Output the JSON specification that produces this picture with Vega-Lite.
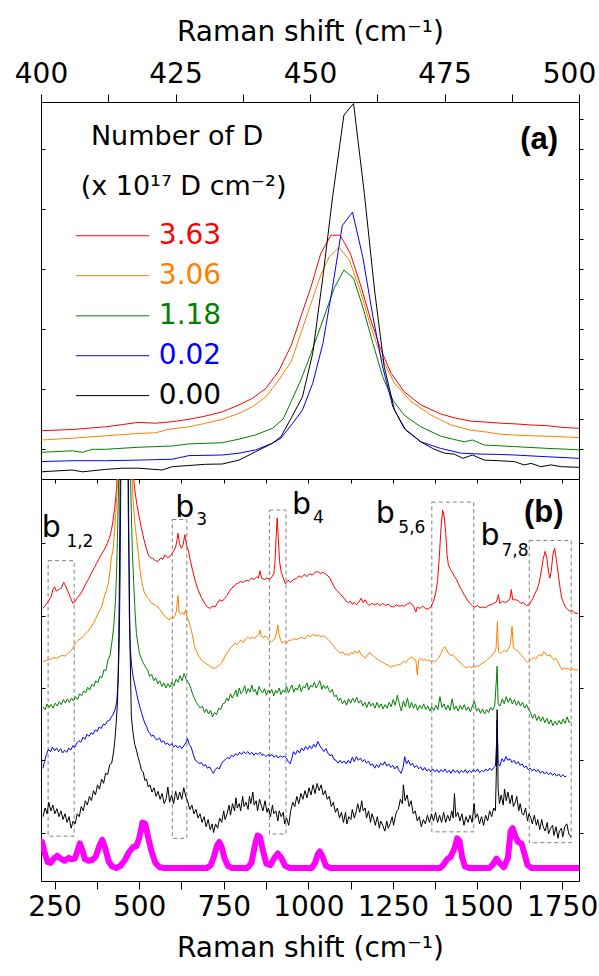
{
"$schema":"https://vega.github.io/schema/vega-lite/v6.json",
"background":"white",
"padding":{"left":13,"top":17,"right":5,"bottom":5},
"spacing":0,
"bounds":"flush",
"config":{
 "font":"DejaVu Sans",
 "view":{"stroke":"black","strokeWidth":1},
 "axis":{"domain":false,"grid":false,"tickColor":"black","tickWidth":1,"labelColor":"black","titleColor":"black","labelFont":"DejaVu Sans","titleFont":"DejaVu Sans","labelFontSize":28,"titleFontSize":28,"titleFontWeight":"normal","labelFlush":false,"labelOverlap":false}
},
"datasets":{
"top":[
{"s":"r","x":400,"y":1.61},{"s":"r","x":405.8,"y":1.65},{"s":"r","x":412,"y":1.74},{"s":"r","x":418.2,"y":1.89},{"s":"r","x":421.3,"y":1.86},{"s":"r","x":424.4,"y":1.91},{"s":"r","x":427.5,"y":1.99},{"s":"r","x":430.6,"y":2.1},{"s":"r","x":433.7,"y":2.24},{"s":"r","x":436.8,"y":2.47},{"s":"r","x":439.3,"y":2.69},{"s":"r","x":441.8,"y":3.02},{"s":"r","x":444.2,"y":3.6},{"s":"r","x":446.5,"y":4.45},{"s":"r","x":448.3,"y":5.41},{"s":"r","x":450.2,"y":6.41},{"s":"r","x":452,"y":7.52},{"s":"r","x":453.9,"y":8.13},{"s":"r","x":455.6,"y":8.13},{"s":"r","x":457.5,"y":7.52},{"s":"r","x":459.5,"y":6.41},{"s":"r","x":461.3,"y":5.3},{"s":"r","x":463.2,"y":4.3},{"s":"r","x":465.1,"y":3.52},{"s":"r","x":467.5,"y":2.91},{"s":"r","x":470.6,"y":2.47},{"s":"r","x":474.3,"y":2.17},{"s":"r","x":477,"y":2.03},{"s":"r","x":479.9,"y":1.93},{"s":"r","x":482.5,"y":1.9},{"s":"r","x":485.5,"y":1.86},{"s":"r","x":488,"y":1.84},{"s":"r","x":491.1,"y":1.8},{"s":"r","x":494,"y":1.78},{"s":"r","x":497,"y":1.72},{"s":"r","x":500,"y":1.69},
{"s":"o","x":400,"y":1.3},{"s":"o","x":405.8,"y":1.36},{"s":"o","x":412,"y":1.44},{"s":"o","x":418.2,"y":1.52},{"s":"o","x":421.3,"y":1.54},{"s":"o","x":423.8,"y":1.66},{"s":"o","x":427.5,"y":1.74},{"s":"o","x":430.6,"y":1.86},{"s":"o","x":433.7,"y":1.99},{"s":"o","x":436.8,"y":2.19},{"s":"o","x":439.3,"y":2.41},{"s":"o","x":441.8,"y":2.74},{"s":"o","x":444.2,"y":3.3},{"s":"o","x":446.5,"y":3.91},{"s":"o","x":448.3,"y":4.86},{"s":"o","x":450.2,"y":5.86},{"s":"o","x":452,"y":6.8},{"s":"o","x":453.6,"y":7.41},{"s":"o","x":455.4,"y":7.72},{"s":"o","x":457.3,"y":7.3},{"s":"o","x":459.5,"y":6.19},{"s":"o","x":461.3,"y":5.08},{"s":"o","x":463.2,"y":4.08},{"s":"o","x":465.7,"y":3.19},{"s":"o","x":468.8,"y":2.58},{"s":"o","x":472.5,"y":2.13},{"s":"o","x":476.2,"y":1.8},{"s":"o","x":479.9,"y":1.63},{"s":"o","x":483,"y":1.56},{"s":"o","x":485.5,"y":1.49},{"s":"o","x":491.1,"y":1.44},{"s":"o","x":495,"y":1.42},{"s":"o","x":500,"y":1.38},
{"s":"g","x":400,"y":0.89},{"s":"g","x":405.8,"y":0.94},{"s":"g","x":407.7,"y":0.89},{"s":"g","x":409.5,"y":0.99},{"s":"g","x":412,"y":0.99},{"s":"g","x":418.2,"y":1.06},{"s":"g","x":424.4,"y":1.1},{"s":"g","x":427.5,"y":1.17},{"s":"g","x":433.7,"y":1.21},{"s":"g","x":436.8,"y":1.33},{"s":"g","x":439.9,"y":1.47},{"s":"g","x":443,"y":1.69},{"s":"g","x":445,"y":2.0},{"s":"g","x":446.5,"y":2.58},{"s":"g","x":448.3,"y":3.3},{"s":"g","x":450.2,"y":4.19},{"s":"g","x":452.4,"y":5.3},{"s":"g","x":454.5,"y":6.36},{"s":"g","x":456.3,"y":6.97},{"s":"g","x":458.1,"y":6.69},{"s":"g","x":459.8,"y":5.74},{"s":"g","x":461.7,"y":4.52},{"s":"g","x":463.5,"y":3.41},{"s":"g","x":465.4,"y":2.63},{"s":"g","x":467.5,"y":2.13},{"s":"g","x":470.6,"y":1.74},{"s":"g","x":474.3,"y":1.43},{"s":"g","x":476.5,"y":1.33},{"s":"g","x":478.7,"y":1.24},{"s":"g","x":480.2,"y":1.3},{"s":"g","x":482.4,"y":1.13},{"s":"g","x":485,"y":1.11},{"s":"g","x":488,"y":1.08},{"s":"g","x":494.2,"y":1.02},{"s":"g","x":497,"y":1.0},{"s":"g","x":500,"y":0.97},
{"s":"b","x":400,"y":0.58},{"s":"b","x":405.8,"y":0.61},{"s":"b","x":412,"y":0.61},{"s":"b","x":418.2,"y":0.63},{"s":"b","x":424.4,"y":0.66},{"s":"b","x":427.5,"y":0.78},{"s":"b","x":433.7,"y":0.8},{"s":"b","x":436.8,"y":0.86},{"s":"b","x":439.9,"y":0.97},{"s":"b","x":443,"y":1.19},{"s":"b","x":444.6,"y":1.36},{"s":"b","x":446.8,"y":1.86},{"s":"b","x":448.6,"y":2.3},{"s":"b","x":450.5,"y":3.19},{"s":"b","x":452.4,"y":4.52},{"s":"b","x":454.2,"y":6.41},{"s":"b","x":456,"y":8.45},{"s":"b","x":457.9,"y":8.9},{"s":"b","x":459.8,"y":7.41},{"s":"b","x":461.7,"y":5.41},{"s":"b","x":463.5,"y":3.74},{"s":"b","x":465.4,"y":2.41},{"s":"b","x":467.5,"y":1.69},{"s":"b","x":470.6,"y":1.24},{"s":"b","x":474.3,"y":1.02},{"s":"b","x":478.1,"y":0.86},{"s":"b","x":481.8,"y":0.83},{"s":"b","x":485,"y":0.82},{"s":"b","x":488,"y":0.8},{"s":"b","x":494.2,"y":0.74},{"s":"b","x":500,"y":0.69},
{"s":"k","x":400,"y":0.24},{"s":"k","x":405.8,"y":0.3},{"s":"k","x":407.7,"y":0.24},{"s":"k","x":412,"y":0.32},{"s":"k","x":415.1,"y":0.36},{"s":"k","x":418.2,"y":0.36},{"s":"k","x":422.5,"y":0.3},{"s":"k","x":424.4,"y":0.41},{"s":"k","x":430.6,"y":0.49},{"s":"k","x":433.7,"y":0.5},{"s":"k","x":436.8,"y":0.63},{"s":"k","x":439.9,"y":0.91},{"s":"k","x":443,"y":1.19},{"s":"k","x":444.6,"y":1.41},{"s":"k","x":446.8,"y":2.13},{"s":"k","x":448.6,"y":2.74},{"s":"k","x":450.5,"y":4.19},{"s":"k","x":452.4,"y":6.74},{"s":"k","x":454.2,"y":9.41},{"s":"k","x":456.3,"y":12.13},{"s":"k","x":458.1,"y":12.52},{"s":"k","x":460.1,"y":9.52},{"s":"k","x":462,"y":6.3},{"s":"k","x":463.8,"y":3.74},{"s":"k","x":465.7,"y":2.3},{"s":"k","x":467.8,"y":1.63},{"s":"k","x":470.6,"y":1.24},{"s":"k","x":473,"y":1.0},{"s":"k","x":475,"y":0.86},{"s":"k","x":476.8,"y":0.83},{"s":"k","x":478.4,"y":0.69},{"s":"k","x":480.2,"y":0.8},{"s":"k","x":482.4,"y":0.63},{"s":"k","x":485,"y":0.61},{"s":"k","x":488,"y":0.58},{"s":"k","x":489.8,"y":0.47},{"s":"k","x":491.1,"y":0.52},{"s":"k","x":492.9,"y":0.41},{"s":"k","x":494.8,"y":0.47},{"s":"k","x":496.7,"y":0.41},{"s":"k","x":500,"y":0.39}
],
"leg":[
{"s":"r","t":"3.63","x1":406.5,"x2":420.1,"lx":421.9,"y":8.11},
{"s":"o","t":"3.06","x1":406.5,"x2":420.1,"lx":421.9,"y":6.78},
{"s":"g","t":"1.18","x1":406.5,"x2":420.1,"lx":421.9,"y":5.44},
{"s":"b","t":"0.02","x1":406.5,"x2":420.1,"lx":421.9,"y":4.11},
{"s":"k","t":"0.00","x1":406.5,"x2":420.1,"lx":421.9,"y":2.78}
],
"toptext":[
{"t":"Number of D","x":425.3,"y":11.41},
{"t":"(x 10¹⁷ D cm⁻²)","x":426.5,"y":9.74}
],
"bot":[
{"s":"r","x":216,"y":3.1},{"s":"r","x":224,"y":3.15},{"s":"r","x":232,"y":3.2},{"s":"r","x":240,"y":3.26},{"s":"r","x":245,"y":3.36},{"s":"r","x":250,"y":3.4},{"s":"r","x":255,"y":3.34},{"s":"r","x":262,"y":3.36},{"s":"r","x":270,"y":3.38},{"s":"r","x":277,"y":3.46},{"s":"r","x":283,"y":3.41},{"s":"r","x":290,"y":3.33},{"s":"r","x":297,"y":3.25},{"s":"r","x":304,"y":3.17},{"s":"r","x":310,"y":3.19},{"s":"r","x":318,"y":3.25},{"s":"r","x":326,"y":3.3},{"s":"r","x":334,"y":3.36},{"s":"r","x":342,"y":3.44},{"s":"r","x":350,"y":3.5},{"s":"r","x":358,"y":3.58},{"s":"r","x":366,"y":3.65},{"s":"r","x":374,"y":3.72},{"s":"r","x":382,"y":3.79},{"s":"r","x":390,"y":3.86},{"s":"r","x":398,"y":3.92},{"s":"r","x":406,"y":4.0},{"s":"r","x":412,"y":4.07},{"s":"r","x":418,"y":4.18},{"s":"r","x":423,"y":4.32},{"s":"r","x":428,"y":4.5},{"s":"r","x":433,"y":4.74},{"s":"r","x":438,"y":5.2},{"s":"r","x":446,"y":7},{"s":"r","x":455,"y":14},{"s":"r","x":462,"y":16},{"s":"r","x":470,"y":9},{"s":"r","x":478,"y":5.6},{"s":"r","x":482,"y":5.0},{"s":"r","x":487,"y":4.74},{"s":"r","x":494,"y":4.52},{"s":"r","x":502,"y":4.32},{"s":"r","x":510,"y":4.14},{"s":"r","x":517,"y":4.0},{"s":"r","x":522,"y":3.92},{"s":"r","x":527,"y":3.84},{"s":"r","x":534,"y":3.8},{"s":"r","x":541,"y":3.79},{"s":"r","x":548,"y":3.76},{"s":"r","x":556,"y":3.75},{"s":"r","x":564,"y":3.8},{"s":"r","x":570,"y":3.78},{"s":"r","x":576,"y":3.84},{"s":"r","x":584,"y":3.8},{"s":"r","x":591,"y":3.82},{"s":"r","x":597,"y":3.86},{"s":"r","x":603,"y":3.9},{"s":"r","x":608,"y":3.95},{"s":"r","x":612,"y":4.05},{"s":"r","x":615,"y":4.14},{"s":"r","x":619,"y":4.0},{"s":"r","x":625,"y":3.93},{"s":"r","x":630,"y":3.98},{"s":"r","x":635,"y":4.12},{"s":"r","x":640,"y":3.98},{"s":"r","x":645,"y":3.91},{"s":"r","x":652,"y":3.75},{"s":"r","x":660,"y":3.59},{"s":"r","x":667,"y":3.46},{"s":"r","x":674,"y":3.36},{"s":"r","x":684,"y":3.25},{"s":"r","x":694,"y":3.17},{"s":"r","x":702,"y":3.12},{"s":"r","x":709,"y":3.1},{"s":"r","x":716,"y":3.13},{"s":"r","x":724,"y":3.12},{"s":"r","x":731,"y":3.17},{"s":"r","x":738,"y":3.22},{"s":"r","x":746,"y":3.2},{"s":"r","x":753,"y":3.24},{"s":"r","x":760,"y":3.28},{"s":"r","x":766,"y":3.33},{"s":"r","x":773,"y":3.38},{"s":"r","x":780,"y":3.4},{"s":"r","x":787,"y":3.44},{"s":"r","x":793,"y":3.45},{"s":"r","x":800,"y":3.47},{"s":"r","x":808,"y":3.46},{"s":"r","x":816,"y":3.49},{"s":"r","x":824,"y":3.48},{"s":"r","x":832,"y":3.52},{"s":"r","x":840,"y":3.5},{"s":"r","x":848,"y":3.54},{"s":"r","x":853,"y":3.52},{"s":"r","x":857,"y":3.62},{"s":"r","x":862,"y":3.52},{"s":"r","x":870,"y":3.5},{"s":"r","x":878,"y":3.52},{"s":"r","x":886,"y":3.5},{"s":"r","x":893,"y":3.54},{"s":"r","x":898,"y":3.58},{"s":"r","x":901,"y":3.7},{"s":"r","x":905,"y":4.1},{"s":"r","x":908,"y":4.35},{"s":"r","x":911,"y":4.1},{"s":"r","x":915,"y":3.75},{"s":"r","x":920,"y":3.6},{"s":"r","x":926,"y":3.52},{"s":"r","x":932,"y":3.44},{"s":"r","x":940,"y":3.49},{"s":"r","x":948,"y":3.46},{"s":"r","x":956,"y":3.5},{"s":"r","x":964,"y":3.51},{"s":"r","x":972,"y":3.55},{"s":"r","x":980,"y":3.53},{"s":"r","x":988,"y":3.57},{"s":"r","x":996,"y":3.54},{"s":"r","x":1004,"y":3.58},{"s":"r","x":1012,"y":3.56},{"s":"r","x":1020,"y":3.6},{"s":"r","x":1028,"y":3.61},{"s":"r","x":1036,"y":3.58},{"s":"r","x":1044,"y":3.6},{"s":"r","x":1052,"y":3.57},{"s":"r","x":1058,"y":3.55},{"s":"r","x":1064,"y":3.52},{"s":"r","x":1070,"y":3.46},{"s":"r","x":1076,"y":3.4},{"s":"r","x":1082,"y":3.36},{"s":"r","x":1088,"y":3.33},{"s":"r","x":1094,"y":3.3},{"s":"r","x":1100,"y":3.27},{"s":"r","x":1106,"y":3.24},{"s":"r","x":1112,"y":3.2},{"s":"r","x":1118,"y":3.18},{"s":"r","x":1124,"y":3.2},{"s":"r","x":1130,"y":3.16},{"s":"r","x":1136,"y":3.18},{"s":"r","x":1142,"y":3.15},{"s":"r","x":1150,"y":3.19},{"s":"r","x":1156,"y":3.24},{"s":"r","x":1162,"y":3.18},{"s":"r","x":1168,"y":3.22},{"s":"r","x":1174,"y":3.17},{"s":"r","x":1180,"y":3.14},{"s":"r","x":1188,"y":3.17},{"s":"r","x":1196,"y":3.15},{"s":"r","x":1204,"y":3.17},{"s":"r","x":1212,"y":3.14},{"s":"r","x":1220,"y":3.17},{"s":"r","x":1228,"y":3.14},{"s":"r","x":1236,"y":3.16},{"s":"r","x":1244,"y":3.13},{"s":"r","x":1252,"y":3.12},{"s":"r","x":1260,"y":3.15},{"s":"r","x":1268,"y":3.13},{"s":"r","x":1276,"y":3.14},{"s":"r","x":1284,"y":3.13},{"s":"r","x":1292,"y":3.16},{"s":"r","x":1300,"y":3.18},{"s":"r","x":1306,"y":3.16},{"s":"r","x":1312,"y":3.12},{"s":"r","x":1318,"y":3.05},{"s":"r","x":1322,"y":3.12},{"s":"r","x":1330,"y":3.1},{"s":"r","x":1338,"y":3.13},{"s":"r","x":1346,"y":3.1},{"s":"r","x":1354,"y":3.09},{"s":"r","x":1362,"y":3.12},{"s":"r","x":1370,"y":3.2},{"s":"r","x":1376,"y":3.3},{"s":"r","x":1382,"y":3.48},{"s":"r","x":1387,"y":3.8},{"s":"r","x":1392,"y":4.2},{"s":"r","x":1397,"y":4.46},{"s":"r","x":1402,"y":4.35},{"s":"r","x":1406,"y":4.15},{"s":"r","x":1410,"y":3.85},{"s":"r","x":1414,"y":3.7},{"s":"r","x":1420,"y":3.64},{"s":"r","x":1426,"y":3.6},{"s":"r","x":1432,"y":3.54},{"s":"r","x":1438,"y":3.5},{"s":"r","x":1444,"y":3.44},{"s":"r","x":1450,"y":3.38},{"s":"r","x":1456,"y":3.33},{"s":"r","x":1462,"y":3.28},{"s":"r","x":1468,"y":3.23},{"s":"r","x":1474,"y":3.19},{"s":"r","x":1480,"y":3.16},{"s":"r","x":1486,"y":3.13},{"s":"r","x":1492,"y":3.12},{"s":"r","x":1500,"y":3.14},{"s":"r","x":1508,"y":3.11},{"s":"r","x":1516,"y":3.12},{"s":"r","x":1524,"y":3.11},{"s":"r","x":1532,"y":3.14},{"s":"r","x":1540,"y":3.15},{"s":"r","x":1548,"y":3.17},{"s":"r","x":1556,"y":3.19},{"s":"r","x":1562,"y":3.29},{"s":"r","x":1566,"y":3.17},{"s":"r","x":1574,"y":3.2},{"s":"r","x":1582,"y":3.18},{"s":"r","x":1590,"y":3.2},{"s":"r","x":1596,"y":3.24},{"s":"r","x":1600,"y":3.36},{"s":"r","x":1604,"y":3.22},{"s":"r","x":1612,"y":3.22},{"s":"r","x":1620,"y":3.21},{"s":"r","x":1628,"y":3.17},{"s":"r","x":1636,"y":3.18},{"s":"r","x":1644,"y":3.14},{"s":"r","x":1652,"y":3.15},{"s":"r","x":1658,"y":3.19},{"s":"r","x":1664,"y":3.24},{"s":"r","x":1670,"y":3.31},{"s":"r","x":1676,"y":3.36},{"s":"r","x":1682,"y":3.45},{"s":"r","x":1688,"y":3.6},{"s":"r","x":1694,"y":3.78},{"s":"r","x":1700,"y":3.89},{"s":"r","x":1705,"y":3.8},{"s":"r","x":1710,"y":3.6},{"s":"r","x":1714,"y":3.52},{"s":"r","x":1718,"y":3.62},{"s":"r","x":1723,"y":3.85},{"s":"r","x":1728,"y":3.93},{"s":"r","x":1733,"y":3.78},{"s":"r","x":1738,"y":3.6},{"s":"r","x":1743,"y":3.42},{"s":"r","x":1748,"y":3.26},{"s":"r","x":1754,"y":3.18},{"s":"r","x":1760,"y":3.12},{"s":"r","x":1766,"y":3.09},{"s":"r","x":1772,"y":3.06},{"s":"r","x":1778,"y":3.08},{"s":"r","x":1786,"y":3.04},{"s":"r","x":1797,"y":3.03},
{"s":"o","x":216,"y":2.36},{"s":"o","x":224,"y":2.38},{"s":"o","x":232,"y":2.39},{"s":"o","x":240,"y":2.4},{"s":"o","x":248,"y":2.42},{"s":"o","x":256,"y":2.41},{"s":"o","x":264,"y":2.43},{"s":"o","x":272,"y":2.45},{"s":"o","x":280,"y":2.44},{"s":"o","x":288,"y":2.47},{"s":"o","x":296,"y":2.5},{"s":"o","x":304,"y":2.55},{"s":"o","x":312,"y":2.62},{"s":"o","x":320,"y":2.66},{"s":"o","x":330,"y":2.69},{"s":"o","x":338,"y":2.73},{"s":"o","x":348,"y":2.78},{"s":"o","x":356,"y":2.83},{"s":"o","x":366,"y":2.9},{"s":"o","x":374,"y":2.98},{"s":"o","x":382,"y":3.06},{"s":"o","x":389,"y":3.12},{"s":"o","x":396,"y":3.24},{"s":"o","x":403,"y":3.35},{"s":"o","x":409,"y":3.45},{"s":"o","x":414,"y":3.62},{"s":"o","x":418,"y":3.8},{"s":"o","x":423,"y":3.91},{"s":"o","x":428,"y":4.2},{"s":"o","x":433,"y":4.55},{"s":"o","x":438,"y":5.1},{"s":"o","x":446,"y":7},{"s":"o","x":455,"y":13},{"s":"o","x":462,"y":15},{"s":"o","x":470,"y":8},{"s":"o","x":477,"y":5.2},{"s":"o","x":482,"y":4.6},{"s":"o","x":487,"y":4.3},{"s":"o","x":492,"y":4.09},{"s":"o","x":497,"y":3.88},{"s":"o","x":502,"y":3.66},{"s":"o","x":507,"y":3.49},{"s":"o","x":514,"y":3.34},{"s":"o","x":522,"y":3.26},{"s":"o","x":530,"y":3.22},{"s":"o","x":537,"y":3.17},{"s":"o","x":544,"y":3.16},{"s":"o","x":550,"y":3.13},{"s":"o","x":556,"y":3.12},{"s":"o","x":562,"y":3.08},{"s":"o","x":568,"y":3.04},{"s":"o","x":576,"y":2.99},{"s":"o","x":582,"y":2.97},{"s":"o","x":588,"y":2.94},{"s":"o","x":594,"y":2.97},{"s":"o","x":600,"y":2.96},{"s":"o","x":606,"y":3.0},{"s":"o","x":610,"y":3.06},{"s":"o","x":613,"y":3.2},{"s":"o","x":615,"y":3.28},{"s":"o","x":618,"y":3.05},{"s":"o","x":623,"y":3.02},{"s":"o","x":628,"y":3.04},{"s":"o","x":633,"y":3.02},{"s":"o","x":637,"y":3.08},{"s":"o","x":642,"y":2.98},{"s":"o","x":647,"y":2.92},{"s":"o","x":652,"y":2.84},{"s":"o","x":658,"y":2.72},{"s":"o","x":664,"y":2.57},{"s":"o","x":670,"y":2.5},{"s":"o","x":676,"y":2.44},{"s":"o","x":684,"y":2.39},{"s":"o","x":690,"y":2.36},{"s":"o","x":697,"y":2.34},{"s":"o","x":704,"y":2.32},{"s":"o","x":710,"y":2.3},{"s":"o","x":716,"y":2.28},{"s":"o","x":723,"y":2.27},{"s":"o","x":730,"y":2.29},{"s":"o","x":736,"y":2.31},{"s":"o","x":743,"y":2.34},{"s":"o","x":750,"y":2.4},{"s":"o","x":756,"y":2.46},{"s":"o","x":763,"y":2.5},{"s":"o","x":770,"y":2.56},{"s":"o","x":776,"y":2.58},{"s":"o","x":783,"y":2.62},{"s":"o","x":790,"y":2.6},{"s":"o","x":796,"y":2.64},{"s":"o","x":802,"y":2.66},{"s":"o","x":808,"y":2.63},{"s":"o","x":815,"y":2.68},{"s":"o","x":822,"y":2.71},{"s":"o","x":828,"y":2.68},{"s":"o","x":835,"y":2.7},{"s":"o","x":842,"y":2.69},{"s":"o","x":849,"y":2.72},{"s":"o","x":854,"y":2.74},{"s":"o","x":857,"y":2.8},{"s":"o","x":861,"y":2.71},{"s":"o","x":867,"y":2.7},{"s":"o","x":874,"y":2.72},{"s":"o","x":880,"y":2.68},{"s":"o","x":886,"y":2.66},{"s":"o","x":891,"y":2.64},{"s":"o","x":897,"y":2.66},{"s":"o","x":903,"y":2.7},{"s":"o","x":907,"y":2.8},{"s":"o","x":910,"y":2.87},{"s":"o","x":913,"y":2.75},{"s":"o","x":918,"y":2.66},{"s":"o","x":924,"y":2.62},{"s":"o","x":930,"y":2.64},{"s":"o","x":936,"y":2.62},{"s":"o","x":942,"y":2.66},{"s":"o","x":950,"y":2.66},{"s":"o","x":958,"y":2.68},{"s":"o","x":966,"y":2.67},{"s":"o","x":974,"y":2.69},{"s":"o","x":982,"y":2.7},{"s":"o","x":990,"y":2.68},{"s":"o","x":998,"y":2.73},{"s":"o","x":1006,"y":2.71},{"s":"o","x":1014,"y":2.74},{"s":"o","x":1022,"y":2.72},{"s":"o","x":1030,"y":2.73},{"s":"o","x":1038,"y":2.71},{"s":"o","x":1046,"y":2.72},{"s":"o","x":1054,"y":2.69},{"s":"o","x":1060,"y":2.66},{"s":"o","x":1066,"y":2.63},{"s":"o","x":1072,"y":2.6},{"s":"o","x":1078,"y":2.56},{"s":"o","x":1084,"y":2.53},{"s":"o","x":1090,"y":2.5},{"s":"o","x":1096,"y":2.48},{"s":"o","x":1102,"y":2.5},{"s":"o","x":1108,"y":2.46},{"s":"o","x":1114,"y":2.47},{"s":"o","x":1120,"y":2.45},{"s":"o","x":1126,"y":2.49},{"s":"o","x":1132,"y":2.47},{"s":"o","x":1138,"y":2.51},{"s":"o","x":1144,"y":2.48},{"s":"o","x":1150,"y":2.52},{"s":"o","x":1156,"y":2.46},{"s":"o","x":1162,"y":2.44},{"s":"o","x":1168,"y":2.41},{"s":"o","x":1174,"y":2.45},{"s":"o","x":1180,"y":2.49},{"s":"o","x":1186,"y":2.47},{"s":"o","x":1192,"y":2.44},{"s":"o","x":1198,"y":2.42},{"s":"o","x":1204,"y":2.4},{"s":"o","x":1210,"y":2.38},{"s":"o","x":1216,"y":2.36},{"s":"o","x":1222,"y":2.35},{"s":"o","x":1228,"y":2.33},{"s":"o","x":1234,"y":2.32},{"s":"o","x":1240,"y":2.3},{"s":"o","x":1246,"y":2.29},{"s":"o","x":1252,"y":2.31},{"s":"o","x":1258,"y":2.3},{"s":"o","x":1264,"y":2.33},{"s":"o","x":1270,"y":2.32},{"s":"o","x":1276,"y":2.34},{"s":"o","x":1282,"y":2.37},{"s":"o","x":1288,"y":2.35},{"s":"o","x":1294,"y":2.39},{"s":"o","x":1300,"y":2.41},{"s":"o","x":1306,"y":2.43},{"s":"o","x":1312,"y":2.4},{"s":"o","x":1318,"y":2.38},{"s":"o","x":1322,"y":2.18},{"s":"o","x":1326,"y":2.38},{"s":"o","x":1332,"y":2.41},{"s":"o","x":1338,"y":2.38},{"s":"o","x":1344,"y":2.4},{"s":"o","x":1350,"y":2.37},{"s":"o","x":1356,"y":2.39},{"s":"o","x":1362,"y":2.36},{"s":"o","x":1368,"y":2.38},{"s":"o","x":1374,"y":2.36},{"s":"o","x":1380,"y":2.39},{"s":"o","x":1386,"y":2.42},{"s":"o","x":1392,"y":2.48},{"s":"o","x":1398,"y":2.54},{"s":"o","x":1403,"y":2.57},{"s":"o","x":1408,"y":2.53},{"s":"o","x":1414,"y":2.48},{"s":"o","x":1420,"y":2.45},{"s":"o","x":1426,"y":2.46},{"s":"o","x":1432,"y":2.43},{"s":"o","x":1438,"y":2.4},{"s":"o","x":1444,"y":2.37},{"s":"o","x":1450,"y":2.35},{"s":"o","x":1456,"y":2.32},{"s":"o","x":1462,"y":2.29},{"s":"o","x":1468,"y":2.28},{"s":"o","x":1474,"y":2.3},{"s":"o","x":1480,"y":2.28},{"s":"o","x":1486,"y":2.29},{"s":"o","x":1492,"y":2.29},{"s":"o","x":1498,"y":2.31},{"s":"o","x":1504,"y":2.3},{"s":"o","x":1510,"y":2.33},{"s":"o","x":1516,"y":2.35},{"s":"o","x":1522,"y":2.36},{"s":"o","x":1528,"y":2.39},{"s":"o","x":1534,"y":2.41},{"s":"o","x":1540,"y":2.44},{"s":"o","x":1546,"y":2.47},{"s":"o","x":1551,"y":2.5},{"s":"o","x":1555,"y":2.55},{"s":"o","x":1559,"y":2.92},{"s":"o","x":1562,"y":2.5},{"s":"o","x":1568,"y":2.48},{"s":"o","x":1574,"y":2.5},{"s":"o","x":1580,"y":2.52},{"s":"o","x":1586,"y":2.5},{"s":"o","x":1592,"y":2.55},{"s":"o","x":1597,"y":2.6},{"s":"o","x":1602,"y":2.85},{"s":"o","x":1606,"y":2.55},{"s":"o","x":1612,"y":2.53},{"s":"o","x":1618,"y":2.52},{"s":"o","x":1624,"y":2.48},{"s":"o","x":1630,"y":2.45},{"s":"o","x":1636,"y":2.42},{"s":"o","x":1642,"y":2.38},{"s":"o","x":1648,"y":2.35},{"s":"o","x":1654,"y":2.37},{"s":"o","x":1660,"y":2.4},{"s":"o","x":1666,"y":2.42},{"s":"o","x":1672,"y":2.4},{"s":"o","x":1678,"y":2.44},{"s":"o","x":1684,"y":2.46},{"s":"o","x":1690,"y":2.44},{"s":"o","x":1696,"y":2.5},{"s":"o","x":1702,"y":2.47},{"s":"o","x":1708,"y":2.44},{"s":"o","x":1714,"y":2.46},{"s":"o","x":1720,"y":2.42},{"s":"o","x":1726,"y":2.39},{"s":"o","x":1732,"y":2.41},{"s":"o","x":1738,"y":2.36},{"s":"o","x":1744,"y":2.3},{"s":"o","x":1750,"y":2.25},{"s":"o","x":1756,"y":2.28},{"s":"o","x":1762,"y":2.26},{"s":"o","x":1768,"y":2.27},{"s":"o","x":1774,"y":2.24},{"s":"o","x":1780,"y":2.27},{"s":"o","x":1786,"y":2.25},{"s":"o","x":1797,"y":2.25},
{"s":"g","x":216,"y":1.74},{"s":"g","x":222,"y":1.7},{"s":"g","x":228,"y":1.78},{"s":"g","x":234,"y":1.73},{"s":"g","x":240,"y":1.77},{"s":"g","x":246,"y":1.72},{"s":"g","x":252,"y":1.79},{"s":"g","x":258,"y":1.75},{"s":"g","x":264,"y":1.81},{"s":"g","x":270,"y":1.77},{"s":"g","x":276,"y":1.84},{"s":"g","x":282,"y":1.79},{"s":"g","x":288,"y":1.85},{"s":"g","x":294,"y":1.8},{"s":"g","x":300,"y":1.86},{"s":"g","x":306,"y":1.82},{"s":"g","x":312,"y":1.88},{"s":"g","x":318,"y":1.84},{"s":"g","x":324,"y":1.92},{"s":"g","x":330,"y":1.89},{"s":"g","x":336,"y":1.96},{"s":"g","x":342,"y":1.93},{"s":"g","x":348,"y":2.01},{"s":"g","x":354,"y":1.97},{"s":"g","x":360,"y":2.05},{"s":"g","x":366,"y":2.02},{"s":"g","x":372,"y":2.1},{"s":"g","x":378,"y":2.07},{"s":"g","x":384,"y":2.16},{"s":"g","x":390,"y":2.14},{"s":"g","x":396,"y":2.25},{"s":"g","x":402,"y":2.24},{"s":"g","x":408,"y":2.39},{"s":"g","x":414,"y":2.45},{"s":"g","x":420,"y":2.65},{"s":"g","x":425,"y":2.85},{"s":"g","x":430,"y":3.2},{"s":"g","x":434,"y":3.7},{"s":"g","x":438,"y":4.5},{"s":"g","x":442,"y":5.5},{"s":"g","x":450,"y":10},{"s":"g","x":458,"y":18},{"s":"g","x":465,"y":10},{"s":"g","x":472,"y":5.5},{"s":"g","x":476,"y":4.6},{"s":"g","x":480,"y":3.9},{"s":"g","x":484,"y":3.45},{"s":"g","x":488,"y":3.05},{"s":"g","x":492,"y":2.75},{"s":"g","x":496,"y":2.62},{"s":"g","x":501,"y":2.48},{"s":"g","x":507,"y":2.4},{"s":"g","x":513,"y":2.34},{"s":"g","x":519,"y":2.29},{"s":"g","x":525,"y":2.25},{"s":"g","x":531,"y":2.16},{"s":"g","x":537,"y":2.19},{"s":"g","x":543,"y":2.1},{"s":"g","x":549,"y":2.14},{"s":"g","x":555,"y":2.06},{"s":"g","x":561,"y":2.1},{"s":"g","x":567,"y":2.02},{"s":"g","x":573,"y":2.07},{"s":"g","x":579,"y":2.0},{"s":"g","x":585,"y":2.06},{"s":"g","x":591,"y":2.01},{"s":"g","x":597,"y":2.08},{"s":"g","x":603,"y":2.03},{"s":"g","x":609,"y":2.12},{"s":"g","x":615,"y":2.08},{"s":"g","x":621,"y":2.17},{"s":"g","x":627,"y":2.1},{"s":"g","x":633,"y":2.2},{"s":"g","x":639,"y":2.12},{"s":"g","x":645,"y":2.08},{"s":"g","x":651,"y":2.02},{"s":"g","x":657,"y":1.93},{"s":"g","x":663,"y":1.86},{"s":"g","x":669,"y":1.8},{"s":"g","x":675,"y":1.76},{"s":"g","x":681,"y":1.72},{"s":"g","x":687,"y":1.75},{"s":"g","x":693,"y":1.66},{"s":"g","x":699,"y":1.71},{"s":"g","x":705,"y":1.64},{"s":"g","x":711,"y":1.69},{"s":"g","x":717,"y":1.6},{"s":"g","x":723,"y":1.66},{"s":"g","x":729,"y":1.63},{"s":"g","x":735,"y":1.72},{"s":"g","x":741,"y":1.7},{"s":"g","x":747,"y":1.78},{"s":"g","x":753,"y":1.79},{"s":"g","x":759,"y":1.86},{"s":"g","x":764,"y":1.82},{"s":"g","x":770,"y":1.92},{"s":"g","x":775,"y":1.86},{"s":"g","x":780,"y":1.9},{"s":"g","x":786,"y":1.97},{"s":"g","x":790,"y":1.88},{"s":"g","x":796,"y":2.0},{"s":"g","x":801,"y":1.92},{"s":"g","x":806,"y":1.95},{"s":"g","x":812,"y":2.03},{"s":"g","x":817,"y":1.92},{"s":"g","x":822,"y":1.99},{"s":"g","x":828,"y":1.94},{"s":"g","x":833,"y":2.04},{"s":"g","x":838,"y":1.95},{"s":"g","x":843,"y":1.98},{"s":"g","x":849,"y":1.9},{"s":"g","x":854,"y":2.02},{"s":"g","x":860,"y":1.96},{"s":"g","x":865,"y":1.93},{"s":"g","x":871,"y":1.99},{"s":"g","x":876,"y":1.9},{"s":"g","x":882,"y":1.97},{"s":"g","x":887,"y":1.93},{"s":"g","x":892,"y":1.98},{"s":"g","x":898,"y":1.89},{"s":"g","x":903,"y":1.97},{"s":"g","x":908,"y":1.93},{"s":"g","x":914,"y":2.0},{"s":"g","x":919,"y":1.91},{"s":"g","x":925,"y":1.97},{"s":"g","x":930,"y":1.94},{"s":"g","x":936,"y":2.02},{"s":"g","x":941,"y":1.93},{"s":"g","x":946,"y":1.99},{"s":"g","x":952,"y":2.04},{"s":"g","x":957,"y":1.94},{"s":"g","x":963,"y":2.0},{"s":"g","x":968,"y":1.97},{"s":"g","x":974,"y":2.05},{"s":"g","x":979,"y":1.95},{"s":"g","x":985,"y":2.02},{"s":"g","x":990,"y":2.0},{"s":"g","x":996,"y":2.07},{"s":"g","x":1001,"y":1.97},{"s":"g","x":1007,"y":2.04},{"s":"g","x":1012,"y":2.01},{"s":"g","x":1018,"y":2.08},{"s":"g","x":1023,"y":2.0},{"s":"g","x":1029,"y":2.05},{"s":"g","x":1034,"y":2.1},{"s":"g","x":1040,"y":1.98},{"s":"g","x":1045,"y":2.04},{"s":"g","x":1051,"y":1.99},{"s":"g","x":1056,"y":2.03},{"s":"g","x":1061,"y":1.97},{"s":"g","x":1065,"y":1.94},{"s":"g","x":1071,"y":1.98},{"s":"g","x":1077,"y":1.88},{"s":"g","x":1083,"y":1.9},{"s":"g","x":1089,"y":1.82},{"s":"g","x":1095,"y":1.86},{"s":"g","x":1101,"y":1.78},{"s":"g","x":1107,"y":1.83},{"s":"g","x":1113,"y":1.76},{"s":"g","x":1119,"y":1.85},{"s":"g","x":1125,"y":1.79},{"s":"g","x":1131,"y":1.86},{"s":"g","x":1137,"y":1.8},{"s":"g","x":1143,"y":1.87},{"s":"g","x":1149,"y":1.79},{"s":"g","x":1155,"y":1.83},{"s":"g","x":1161,"y":1.75},{"s":"g","x":1167,"y":1.8},{"s":"g","x":1173,"y":1.73},{"s":"g","x":1179,"y":1.81},{"s":"g","x":1185,"y":1.75},{"s":"g","x":1191,"y":1.79},{"s":"g","x":1197,"y":1.72},{"s":"g","x":1203,"y":1.8},{"s":"g","x":1209,"y":1.73},{"s":"g","x":1215,"y":1.78},{"s":"g","x":1221,"y":1.71},{"s":"g","x":1227,"y":1.77},{"s":"g","x":1233,"y":1.72},{"s":"g","x":1239,"y":1.8},{"s":"g","x":1245,"y":1.74},{"s":"g","x":1251,"y":1.84},{"s":"g","x":1257,"y":1.76},{"s":"g","x":1263,"y":1.9},{"s":"g","x":1269,"y":1.78},{"s":"g","x":1275,"y":1.68},{"s":"g","x":1281,"y":1.82},{"s":"g","x":1287,"y":1.74},{"s":"g","x":1293,"y":1.86},{"s":"g","x":1299,"y":1.72},{"s":"g","x":1305,"y":1.8},{"s":"g","x":1311,"y":1.72},{"s":"g","x":1317,"y":1.78},{"s":"g","x":1323,"y":1.69},{"s":"g","x":1329,"y":1.76},{"s":"g","x":1335,"y":1.71},{"s":"g","x":1341,"y":1.78},{"s":"g","x":1347,"y":1.7},{"s":"g","x":1353,"y":1.75},{"s":"g","x":1359,"y":1.68},{"s":"g","x":1365,"y":1.74},{"s":"g","x":1371,"y":1.69},{"s":"g","x":1377,"y":1.76},{"s":"g","x":1383,"y":1.7},{"s":"g","x":1389,"y":1.88},{"s":"g","x":1395,"y":1.73},{"s":"g","x":1401,"y":1.78},{"s":"g","x":1407,"y":1.7},{"s":"g","x":1413,"y":1.76},{"s":"g","x":1419,"y":1.69},{"s":"g","x":1425,"y":1.85},{"s":"g","x":1431,"y":1.7},{"s":"g","x":1437,"y":1.75},{"s":"g","x":1443,"y":1.68},{"s":"g","x":1449,"y":1.76},{"s":"g","x":1455,"y":1.7},{"s":"g","x":1461,"y":1.77},{"s":"g","x":1467,"y":1.69},{"s":"g","x":1473,"y":1.74},{"s":"g","x":1479,"y":1.67},{"s":"g","x":1485,"y":1.75},{"s":"g","x":1491,"y":1.82},{"s":"g","x":1497,"y":1.68},{"s":"g","x":1503,"y":1.72},{"s":"g","x":1509,"y":1.65},{"s":"g","x":1515,"y":1.71},{"s":"g","x":1521,"y":1.64},{"s":"g","x":1527,"y":1.7},{"s":"g","x":1533,"y":1.66},{"s":"g","x":1539,"y":1.73},{"s":"g","x":1545,"y":1.69},{"s":"g","x":1551,"y":1.76},{"s":"g","x":1555,"y":2.05},{"s":"g","x":1558,"y":2.3},{"s":"g","x":1561,"y":1.78},{"s":"g","x":1567,"y":1.75},{"s":"g","x":1573,"y":1.85},{"s":"g","x":1579,"y":1.78},{"s":"g","x":1585,"y":1.88},{"s":"g","x":1591,"y":1.8},{"s":"g","x":1597,"y":1.86},{"s":"g","x":1603,"y":1.78},{"s":"g","x":1609,"y":1.84},{"s":"g","x":1615,"y":1.76},{"s":"g","x":1621,"y":1.82},{"s":"g","x":1627,"y":1.75},{"s":"g","x":1633,"y":1.8},{"s":"g","x":1639,"y":1.72},{"s":"g","x":1645,"y":1.77},{"s":"g","x":1651,"y":1.7},{"s":"g","x":1657,"y":1.66},{"s":"g","x":1663,"y":1.58},{"s":"g","x":1669,"y":1.64},{"s":"g","x":1675,"y":1.55},{"s":"g","x":1681,"y":1.61},{"s":"g","x":1687,"y":1.54},{"s":"g","x":1693,"y":1.6},{"s":"g","x":1699,"y":1.52},{"s":"g","x":1705,"y":1.58},{"s":"g","x":1711,"y":1.5},{"s":"g","x":1717,"y":1.56},{"s":"g","x":1723,"y":1.48},{"s":"g","x":1729,"y":1.54},{"s":"g","x":1735,"y":1.49},{"s":"g","x":1741,"y":1.55},{"s":"g","x":1747,"y":1.5},{"s":"g","x":1753,"y":1.57},{"s":"g","x":1759,"y":1.51},{"s":"g","x":1765,"y":1.6},{"s":"g","x":1771,"y":1.52},{"s":"g","x":1774,"y":1.54},
{"s":"b","x":216,"y":0.89},{"s":"b","x":220,"y":0.98},{"s":"b","x":226,"y":1.08},{"s":"b","x":232,"y":1.15},{"s":"b","x":238,"y":1.12},{"s":"b","x":244,"y":1.18},{"s":"b","x":250,"y":1.13},{"s":"b","x":256,"y":1.17},{"s":"b","x":262,"y":1.12},{"s":"b","x":268,"y":1.16},{"s":"b","x":274,"y":1.1},{"s":"b","x":280,"y":1.14},{"s":"b","x":286,"y":1.11},{"s":"b","x":292,"y":1.17},{"s":"b","x":298,"y":1.14},{"s":"b","x":304,"y":1.2},{"s":"b","x":310,"y":1.18},{"s":"b","x":316,"y":1.24},{"s":"b","x":322,"y":1.27},{"s":"b","x":328,"y":1.25},{"s":"b","x":334,"y":1.32},{"s":"b","x":340,"y":1.29},{"s":"b","x":346,"y":1.36},{"s":"b","x":352,"y":1.33},{"s":"b","x":358,"y":1.38},{"s":"b","x":364,"y":1.36},{"s":"b","x":370,"y":1.42},{"s":"b","x":376,"y":1.4},{"s":"b","x":382,"y":1.46},{"s":"b","x":388,"y":1.44},{"s":"b","x":394,"y":1.5},{"s":"b","x":400,"y":1.49},{"s":"b","x":406,"y":1.54},{"s":"b","x":412,"y":1.55},{"s":"b","x":418,"y":1.6},{"s":"b","x":424,"y":1.64},{"s":"b","x":430,"y":1.72},{"s":"b","x":434,"y":1.82},{"s":"b","x":438,"y":2.1},{"s":"b","x":441,"y":2.6},{"s":"b","x":444,"y":3.6},{"s":"b","x":446,"y":5.0},{"s":"b","x":452,"y":12},{"s":"b","x":458,"y":20},{"s":"b","x":464,"y":12},{"s":"b","x":468,"y":5.2},{"s":"b","x":471,"y":3.0},{"s":"b","x":474,"y":2.55},{"s":"b","x":478,"y":2.3},{"s":"b","x":482,"y":2.16},{"s":"b","x":487,"y":2.05},{"s":"b","x":492,"y":1.94},{"s":"b","x":497,"y":1.83},{"s":"b","x":502,"y":1.74},{"s":"b","x":507,"y":1.66},{"s":"b","x":512,"y":1.58},{"s":"b","x":517,"y":1.51},{"s":"b","x":522,"y":1.47},{"s":"b","x":527,"y":1.4},{"s":"b","x":532,"y":1.37},{"s":"b","x":537,"y":1.33},{"s":"b","x":542,"y":1.35},{"s":"b","x":548,"y":1.3},{"s":"b","x":554,"y":1.28},{"s":"b","x":560,"y":1.31},{"s":"b","x":566,"y":1.25},{"s":"b","x":572,"y":1.27},{"s":"b","x":578,"y":1.22},{"s":"b","x":584,"y":1.24},{"s":"b","x":590,"y":1.2},{"s":"b","x":596,"y":1.23},{"s":"b","x":602,"y":1.18},{"s":"b","x":608,"y":1.21},{"s":"b","x":614,"y":1.17},{"s":"b","x":620,"y":1.2},{"s":"b","x":626,"y":1.16},{"s":"b","x":632,"y":1.2},{"s":"b","x":638,"y":1.24},{"s":"b","x":643,"y":1.3},{"s":"b","x":648,"y":1.22},{"s":"b","x":654,"y":1.18},{"s":"b","x":660,"y":1.08},{"s":"b","x":666,"y":1.0},{"s":"b","x":672,"y":0.98},{"s":"b","x":678,"y":0.95},{"s":"b","x":684,"y":0.97},{"s":"b","x":690,"y":0.92},{"s":"b","x":696,"y":0.94},{"s":"b","x":702,"y":0.89},{"s":"b","x":708,"y":0.91},{"s":"b","x":714,"y":0.86},{"s":"b","x":719,"y":0.82},{"s":"b","x":725,"y":0.87},{"s":"b","x":731,"y":0.9},{"s":"b","x":737,"y":0.88},{"s":"b","x":743,"y":0.95},{"s":"b","x":749,"y":0.99},{"s":"b","x":755,"y":1.01},{"s":"b","x":761,"y":1.04},{"s":"b","x":767,"y":1.02},{"s":"b","x":773,"y":1.07},{"s":"b","x":779,"y":1.05},{"s":"b","x":785,"y":1.09},{"s":"b","x":791,"y":1.07},{"s":"b","x":797,"y":1.11},{"s":"b","x":803,"y":1.08},{"s":"b","x":809,"y":1.12},{"s":"b","x":815,"y":1.09},{"s":"b","x":821,"y":1.12},{"s":"b","x":827,"y":1.08},{"s":"b","x":833,"y":1.11},{"s":"b","x":839,"y":1.07},{"s":"b","x":845,"y":1.1},{"s":"b","x":851,"y":1.08},{"s":"b","x":857,"y":1.11},{"s":"b","x":863,"y":1.07},{"s":"b","x":869,"y":1.08},{"s":"b","x":875,"y":1.05},{"s":"b","x":881,"y":1.08},{"s":"b","x":887,"y":1.06},{"s":"b","x":893,"y":1.08},{"s":"b","x":899,"y":1.04},{"s":"b","x":905,"y":1.07},{"s":"b","x":911,"y":1.03},{"s":"b","x":917,"y":1.06},{"s":"b","x":923,"y":1.04},{"s":"b","x":929,"y":1.06},{"s":"b","x":935,"y":1.03},{"s":"b","x":941,"y":0.98},{"s":"b","x":946,"y":0.95},{"s":"b","x":951,"y":1.02},{"s":"b","x":956,"y":1.12},{"s":"b","x":962,"y":1.08},{"s":"b","x":968,"y":1.14},{"s":"b","x":974,"y":1.1},{"s":"b","x":980,"y":1.17},{"s":"b","x":986,"y":1.13},{"s":"b","x":992,"y":1.19},{"s":"b","x":998,"y":1.15},{"s":"b","x":1004,"y":1.2},{"s":"b","x":1010,"y":1.16},{"s":"b","x":1016,"y":1.22},{"s":"b","x":1022,"y":1.18},{"s":"b","x":1028,"y":1.26},{"s":"b","x":1034,"y":1.2},{"s":"b","x":1040,"y":1.16},{"s":"b","x":1046,"y":1.12},{"s":"b","x":1052,"y":1.16},{"s":"b","x":1058,"y":1.1},{"s":"b","x":1064,"y":1.06},{"s":"b","x":1070,"y":1.08},{"s":"b","x":1076,"y":1.01},{"s":"b","x":1082,"y":1.0},{"s":"b","x":1088,"y":0.96},{"s":"b","x":1094,"y":1.0},{"s":"b","x":1100,"y":0.96},{"s":"b","x":1106,"y":0.99},{"s":"b","x":1112,"y":0.95},{"s":"b","x":1118,"y":1.0},{"s":"b","x":1124,"y":0.96},{"s":"b","x":1130,"y":1.04},{"s":"b","x":1136,"y":0.98},{"s":"b","x":1142,"y":1.05},{"s":"b","x":1148,"y":1.0},{"s":"b","x":1154,"y":1.03},{"s":"b","x":1160,"y":0.98},{"s":"b","x":1166,"y":1.01},{"s":"b","x":1172,"y":0.96},{"s":"b","x":1178,"y":0.99},{"s":"b","x":1184,"y":0.93},{"s":"b","x":1190,"y":0.95},{"s":"b","x":1196,"y":0.89},{"s":"b","x":1202,"y":0.94},{"s":"b","x":1208,"y":0.9},{"s":"b","x":1214,"y":0.96},{"s":"b","x":1220,"y":0.93},{"s":"b","x":1226,"y":0.98},{"s":"b","x":1232,"y":0.92},{"s":"b","x":1238,"y":0.95},{"s":"b","x":1244,"y":0.9},{"s":"b","x":1250,"y":0.93},{"s":"b","x":1256,"y":0.88},{"s":"b","x":1262,"y":0.92},{"s":"b","x":1268,"y":0.86},{"s":"b","x":1274,"y":0.82},{"s":"b","x":1280,"y":0.9},{"s":"b","x":1285,"y":1.05},{"s":"b","x":1290,"y":0.95},{"s":"b","x":1296,"y":1.0},{"s":"b","x":1302,"y":0.93},{"s":"b","x":1308,"y":0.96},{"s":"b","x":1314,"y":0.9},{"s":"b","x":1320,"y":0.93},{"s":"b","x":1326,"y":0.88},{"s":"b","x":1332,"y":0.91},{"s":"b","x":1338,"y":0.86},{"s":"b","x":1344,"y":0.9},{"s":"b","x":1350,"y":0.85},{"s":"b","x":1356,"y":0.88},{"s":"b","x":1362,"y":0.84},{"s":"b","x":1368,"y":0.88},{"s":"b","x":1374,"y":0.84},{"s":"b","x":1380,"y":0.87},{"s":"b","x":1386,"y":0.83},{"s":"b","x":1392,"y":0.87},{"s":"b","x":1398,"y":0.84},{"s":"b","x":1404,"y":0.88},{"s":"b","x":1410,"y":0.83},{"s":"b","x":1416,"y":0.86},{"s":"b","x":1422,"y":0.82},{"s":"b","x":1428,"y":0.87},{"s":"b","x":1434,"y":0.83},{"s":"b","x":1440,"y":0.86},{"s":"b","x":1446,"y":0.82},{"s":"b","x":1452,"y":0.86},{"s":"b","x":1458,"y":0.83},{"s":"b","x":1464,"y":0.87},{"s":"b","x":1470,"y":0.82},{"s":"b","x":1476,"y":0.86},{"s":"b","x":1482,"y":0.83},{"s":"b","x":1488,"y":0.87},{"s":"b","x":1494,"y":0.84},{"s":"b","x":1500,"y":0.88},{"s":"b","x":1506,"y":0.83},{"s":"b","x":1512,"y":0.86},{"s":"b","x":1518,"y":0.84},{"s":"b","x":1524,"y":0.88},{"s":"b","x":1530,"y":0.85},{"s":"b","x":1536,"y":0.89},{"s":"b","x":1542,"y":0.86},{"s":"b","x":1548,"y":0.9},{"s":"b","x":1553,"y":0.92},{"s":"b","x":1556,"y":1.2},{"s":"b","x":1558,"y":1.56},{"s":"b","x":1561,"y":0.96},{"s":"b","x":1566,"y":0.92},{"s":"b","x":1572,"y":1.02},{"s":"b","x":1578,"y":0.98},{"s":"b","x":1584,"y":1.05},{"s":"b","x":1590,"y":1.0},{"s":"b","x":1596,"y":1.02},{"s":"b","x":1602,"y":0.97},{"s":"b","x":1608,"y":1.0},{"s":"b","x":1614,"y":0.95},{"s":"b","x":1620,"y":0.98},{"s":"b","x":1626,"y":0.93},{"s":"b","x":1632,"y":0.95},{"s":"b","x":1638,"y":0.9},{"s":"b","x":1644,"y":0.92},{"s":"b","x":1650,"y":0.87},{"s":"b","x":1656,"y":0.89},{"s":"b","x":1662,"y":0.85},{"s":"b","x":1668,"y":0.88},{"s":"b","x":1674,"y":0.84},{"s":"b","x":1680,"y":0.87},{"s":"b","x":1686,"y":0.82},{"s":"b","x":1692,"y":0.85},{"s":"b","x":1698,"y":0.81},{"s":"b","x":1704,"y":0.84},{"s":"b","x":1710,"y":0.8},{"s":"b","x":1716,"y":0.83},{"s":"b","x":1722,"y":0.79},{"s":"b","x":1728,"y":0.82},{"s":"b","x":1734,"y":0.78},{"s":"b","x":1740,"y":0.81},{"s":"b","x":1746,"y":0.77},{"s":"b","x":1752,"y":0.8},{"s":"b","x":1758,"y":0.77},{"s":"b","x":1762,"y":0.78},
{"s":"k","x":216,"y":0.22},{"s":"k","x":222,"y":0.34},{"s":"k","x":228,"y":0.26},{"s":"k","x":233,"y":0.42},{"s":"k","x":239,"y":0.3},{"s":"k","x":245,"y":0.38},{"s":"k","x":251,"y":0.26},{"s":"k","x":257,"y":0.33},{"s":"k","x":263,"y":0.22},{"s":"k","x":269,"y":0.3},{"s":"k","x":275,"y":0.18},{"s":"k","x":281,"y":0.26},{"s":"k","x":287,"y":0.14},{"s":"k","x":293,"y":0.22},{"s":"k","x":299,"y":0.06},{"s":"k","x":305,"y":0.16},{"s":"k","x":311,"y":0.12},{"s":"k","x":317,"y":0.26},{"s":"k","x":323,"y":0.22},{"s":"k","x":329,"y":0.36},{"s":"k","x":335,"y":0.3},{"s":"k","x":341,"y":0.44},{"s":"k","x":347,"y":0.38},{"s":"k","x":353,"y":0.5},{"s":"k","x":359,"y":0.44},{"s":"k","x":365,"y":0.58},{"s":"k","x":371,"y":0.52},{"s":"k","x":377,"y":0.66},{"s":"k","x":383,"y":0.6},{"s":"k","x":389,"y":0.74},{"s":"k","x":395,"y":0.68},{"s":"k","x":401,"y":0.82},{"s":"k","x":407,"y":0.8},{"s":"k","x":413,"y":0.94},{"s":"k","x":419,"y":0.96},{"s":"k","x":424,"y":1.1},{"s":"k","x":428,"y":1.26},{"s":"k","x":432,"y":1.5},{"s":"k","x":436,"y":1.8},{"s":"k","x":439,"y":2.4},{"s":"k","x":441,"y":3.17},{"s":"k","x":443,"y":4.3},{"s":"k","x":446,"y":6},{"s":"k","x":452,"y":14},{"s":"k","x":458,"y":22},{"s":"k","x":463,"y":14},{"s":"k","x":466,"y":6},{"s":"k","x":468,"y":4.4},{"s":"k","x":470.5,"y":3.63},{"s":"k","x":473,"y":2.6},{"s":"k","x":477,"y":1.6},{"s":"k","x":482,"y":1.38},{"s":"k","x":487,"y":1.22},{"s":"k","x":492,"y":1.14},{"s":"k","x":497,"y":1.04},{"s":"k","x":502,"y":0.96},{"s":"k","x":507,"y":0.86},{"s":"k","x":512,"y":0.84},{"s":"k","x":517,"y":0.72},{"s":"k","x":522,"y":0.74},{"s":"k","x":527,"y":0.63},{"s":"k","x":532,"y":0.66},{"s":"k","x":538,"y":0.56},{"s":"k","x":544,"y":0.62},{"s":"k","x":550,"y":0.5},{"s":"k","x":556,"y":0.57},{"s":"k","x":562,"y":0.46},{"s":"k","x":568,"y":0.54},{"s":"k","x":574,"y":0.4},{"s":"k","x":580,"y":0.47},{"s":"k","x":585,"y":0.63},{"s":"k","x":590,"y":0.42},{"s":"k","x":596,"y":0.52},{"s":"k","x":602,"y":0.4},{"s":"k","x":608,"y":0.57},{"s":"k","x":614,"y":0.45},{"s":"k","x":620,"y":0.56},{"s":"k","x":626,"y":0.46},{"s":"k","x":632,"y":0.62},{"s":"k","x":638,"y":0.5},{"s":"k","x":644,"y":0.42},{"s":"k","x":650,"y":0.32},{"s":"k","x":656,"y":0.38},{"s":"k","x":662,"y":0.26},{"s":"k","x":668,"y":0.32},{"s":"k","x":674,"y":0.2},{"s":"k","x":680,"y":0.26},{"s":"k","x":686,"y":0.14},{"s":"k","x":692,"y":0.22},{"s":"k","x":698,"y":0.08},{"s":"k","x":704,"y":0.18},{"s":"k","x":710,"y":0.04},{"s":"k","x":716,"y":0.12},{"s":"k","x":720,"y":0.0},{"s":"k","x":726,"y":0.12},{"s":"k","x":732,"y":0.06},{"s":"k","x":738,"y":0.2},{"s":"k","x":744,"y":0.14},{"s":"k","x":750,"y":0.3},{"s":"k","x":754,"y":0.18},{"s":"k","x":760,"y":0.26},{"s":"k","x":766,"y":0.38},{"s":"k","x":770,"y":0.24},{"s":"k","x":776,"y":0.4},{"s":"k","x":782,"y":0.3},{"s":"k","x":786,"y":0.48},{"s":"k","x":790,"y":0.34},{"s":"k","x":796,"y":0.4},{"s":"k","x":800,"y":0.3},{"s":"k","x":806,"y":0.5},{"s":"k","x":810,"y":0.36},{"s":"k","x":816,"y":0.42},{"s":"k","x":822,"y":0.32},{"s":"k","x":826,"y":0.5},{"s":"k","x":830,"y":0.4},{"s":"k","x":836,"y":0.56},{"s":"k","x":840,"y":0.38},{"s":"k","x":846,"y":0.44},{"s":"k","x":850,"y":0.3},{"s":"k","x":856,"y":0.46},{"s":"k","x":862,"y":0.36},{"s":"k","x":866,"y":0.3},{"s":"k","x":872,"y":0.44},{"s":"k","x":878,"y":0.28},{"s":"k","x":882,"y":0.34},{"s":"k","x":888,"y":0.22},{"s":"k","x":894,"y":0.38},{"s":"k","x":898,"y":0.26},{"s":"k","x":904,"y":0.3},{"s":"k","x":910,"y":0.16},{"s":"k","x":914,"y":0.3},{"s":"k","x":920,"y":0.22},{"s":"k","x":926,"y":0.28},{"s":"k","x":930,"y":0.12},{"s":"k","x":936,"y":0.2},{"s":"k","x":942,"y":0.1},{"s":"k","x":948,"y":0.3},{"s":"k","x":954,"y":0.42},{"s":"k","x":960,"y":0.36},{"s":"k","x":966,"y":0.5},{"s":"k","x":972,"y":0.4},{"s":"k","x":978,"y":0.54},{"s":"k","x":984,"y":0.46},{"s":"k","x":990,"y":0.58},{"s":"k","x":996,"y":0.48},{"s":"k","x":1002,"y":0.62},{"s":"k","x":1008,"y":0.52},{"s":"k","x":1014,"y":0.66},{"s":"k","x":1020,"y":0.54},{"s":"k","x":1026,"y":0.68},{"s":"k","x":1032,"y":0.58},{"s":"k","x":1038,"y":0.66},{"s":"k","x":1044,"y":0.52},{"s":"k","x":1050,"y":0.58},{"s":"k","x":1056,"y":0.46},{"s":"k","x":1062,"y":0.5},{"s":"k","x":1068,"y":0.36},{"s":"k","x":1074,"y":0.42},{"s":"k","x":1080,"y":0.28},{"s":"k","x":1086,"y":0.34},{"s":"k","x":1092,"y":0.2},{"s":"k","x":1098,"y":0.28},{"s":"k","x":1104,"y":0.14},{"s":"k","x":1110,"y":0.28},{"s":"k","x":1114,"y":0.12},{"s":"k","x":1120,"y":0.22},{"s":"k","x":1126,"y":0.18},{"s":"k","x":1130,"y":0.32},{"s":"k","x":1136,"y":0.2},{"s":"k","x":1142,"y":0.3},{"s":"k","x":1146,"y":0.4},{"s":"k","x":1152,"y":0.28},{"s":"k","x":1158,"y":0.44},{"s":"k","x":1162,"y":0.3},{"s":"k","x":1168,"y":0.34},{"s":"k","x":1172,"y":0.2},{"s":"k","x":1178,"y":0.3},{"s":"k","x":1184,"y":0.14},{"s":"k","x":1188,"y":0.26},{"s":"k","x":1194,"y":0.18},{"s":"k","x":1198,"y":0.1},{"s":"k","x":1204,"y":0.22},{"s":"k","x":1210,"y":0.06},{"s":"k","x":1214,"y":0.16},{"s":"k","x":1220,"y":0.1},{"s":"k","x":1226,"y":0.02},{"s":"k","x":1232,"y":0.16},{"s":"k","x":1236,"y":0.06},{"s":"k","x":1242,"y":0.12},{"s":"k","x":1248,"y":0.22},{"s":"k","x":1252,"y":0.1},{"s":"k","x":1258,"y":0.24},{"s":"k","x":1262,"y":0.3},{"s":"k","x":1266,"y":0.32},{"s":"k","x":1272,"y":0.46},{"s":"k","x":1278,"y":0.4},{"s":"k","x":1281,"y":0.66},{"s":"k","x":1286,"y":0.44},{"s":"k","x":1292,"y":0.52},{"s":"k","x":1298,"y":0.36},{"s":"k","x":1304,"y":0.44},{"s":"k","x":1310,"y":0.26},{"s":"k","x":1316,"y":0.3},{"s":"k","x":1322,"y":0.16},{"s":"k","x":1328,"y":0.22},{"s":"k","x":1334,"y":0.08},{"s":"k","x":1340,"y":0.18},{"s":"k","x":1346,"y":0.12},{"s":"k","x":1352,"y":0.24},{"s":"k","x":1358,"y":0.14},{"s":"k","x":1364,"y":0.26},{"s":"k","x":1370,"y":0.16},{"s":"k","x":1376,"y":0.28},{"s":"k","x":1382,"y":0.14},{"s":"k","x":1388,"y":0.24},{"s":"k","x":1394,"y":0.14},{"s":"k","x":1400,"y":0.28},{"s":"k","x":1406,"y":0.14},{"s":"k","x":1412,"y":0.24},{"s":"k","x":1418,"y":0.16},{"s":"k","x":1424,"y":0.3},{"s":"k","x":1428,"y":0.2},{"s":"k","x":1432,"y":0.54},{"s":"k","x":1436,"y":0.22},{"s":"k","x":1442,"y":0.28},{"s":"k","x":1448,"y":0.16},{"s":"k","x":1454,"y":0.26},{"s":"k","x":1460,"y":0.1},{"s":"k","x":1466,"y":0.22},{"s":"k","x":1472,"y":0.14},{"s":"k","x":1478,"y":0.24},{"s":"k","x":1484,"y":0.14},{"s":"k","x":1490,"y":0.4},{"s":"k","x":1494,"y":0.2},{"s":"k","x":1500,"y":0.26},{"s":"k","x":1506,"y":0.12},{"s":"k","x":1512,"y":0.22},{"s":"k","x":1518,"y":0.1},{"s":"k","x":1524,"y":0.24},{"s":"k","x":1530,"y":0.16},{"s":"k","x":1536,"y":0.3},{"s":"k","x":1542,"y":0.22},{"s":"k","x":1548,"y":0.34},{"s":"k","x":1553,"y":0.3},{"s":"k","x":1556,"y":0.9},{"s":"k","x":1558,"y":1.7},{"s":"k","x":1561,"y":0.6},{"s":"k","x":1565,"y":0.4},{"s":"k","x":1570,"y":0.52},{"s":"k","x":1576,"y":0.38},{"s":"k","x":1580,"y":0.6},{"s":"k","x":1585,"y":0.44},{"s":"k","x":1590,"y":0.56},{"s":"k","x":1596,"y":0.4},{"s":"k","x":1602,"y":0.52},{"s":"k","x":1606,"y":0.36},{"s":"k","x":1612,"y":0.42},{"s":"k","x":1616,"y":0.5},{"s":"k","x":1622,"y":0.3},{"s":"k","x":1626,"y":0.4},{"s":"k","x":1632,"y":0.26},{"s":"k","x":1636,"y":0.24},{"s":"k","x":1642,"y":0.34},{"s":"k","x":1648,"y":0.16},{"s":"k","x":1652,"y":0.26},{"s":"k","x":1658,"y":0.2},{"s":"k","x":1662,"y":0.12},{"s":"k","x":1668,"y":0.24},{"s":"k","x":1674,"y":0.1},{"s":"k","x":1678,"y":0.18},{"s":"k","x":1684,"y":0.04},{"s":"k","x":1690,"y":0.18},{"s":"k","x":1694,"y":0.08},{"s":"k","x":1700,"y":0.02},{"s":"k","x":1706,"y":0.14},{"s":"k","x":1710,"y":-0.02},{"s":"k","x":1716,"y":0.06},{"s":"k","x":1722,"y":0.1},{"s":"k","x":1726,"y":-0.04},{"s":"k","x":1732,"y":0.08},{"s":"k","x":1738,"y":-0.08},{"s":"k","x":1742,"y":0.02},{"s":"k","x":1748,"y":0.06},{"s":"k","x":1752,"y":-0.06},{"s":"k","x":1758,"y":0.08},{"s":"k","x":1764,"y":0.12},{"s":"k","x":1770,"y":-0.02},{"s":"k","x":1776,"y":-0.06}
],
"calc":[
{"x":213,"y":-0.13},{"x":222,"y":-0.3},{"x":230,"y":-0.41},{"x":238,"y":-0.42},{"x":248,"y":-0.36},{"x":258,"y":-0.32},{"x":268,"y":-0.36},{"x":280,"y":-0.39},{"x":292,"y":-0.35},{"x":300,"y":-0.37},{"x":310,"y":-0.36},{"x":318,"y":-0.25},{"x":325,"y":-0.15},{"x":332,"y":-0.24},{"x":340,"y":-0.37},{"x":350,"y":-0.39},{"x":362,"y":-0.38},{"x":372,"y":-0.33},{"x":382,"y":-0.19},{"x":391,"y":-0.1},{"x":400,"y":-0.22},{"x":410,"y":-0.4},{"x":420,"y":-0.47},{"x":432,"y":-0.49},{"x":445,"y":-0.46},{"x":458,"y":-0.38},{"x":470,"y":-0.27},{"x":482,"y":-0.2},{"x":492,"y":-0.19},{"x":500,"y":-0.08},{"x":510,"y":0.14},{"x":518,"y":0.12},{"x":526,"y":-0.05},{"x":536,"y":-0.25},{"x":548,"y":-0.42},{"x":560,"y":-0.48},{"x":575,"y":-0.49},{"x":700,"y":-0.49},{"x":712,"y":-0.45},{"x":722,"y":-0.32},{"x":730,"y":-0.18},{"x":737,"y":-0.13},{"x":744,"y":-0.2},{"x":752,"y":-0.35},{"x":762,"y":-0.46},{"x":775,"y":-0.49},{"x":820,"y":-0.49},{"x":832,"y":-0.42},{"x":842,"y":-0.18},{"x":850,"y":-0.04},{"x":857,"y":-0.06},{"x":866,"y":-0.25},{"x":876,"y":-0.43},{"x":888,"y":-0.45},{"x":900,"y":-0.35},{"x":910,"y":-0.29},{"x":920,"y":-0.35},{"x":932,"y":-0.46},{"x":945,"y":-0.49},{"x":1010,"y":-0.49},{"x":1020,"y":-0.42},{"x":1028,"y":-0.3},{"x":1034,"y":-0.26},{"x":1042,"y":-0.33},{"x":1052,"y":-0.46},{"x":1065,"y":-0.49},{"x":1390,"y":-0.49},{"x":1400,"y":-0.44},{"x":1410,"y":-0.37},{"x":1420,"y":-0.34},{"x":1432,"y":-0.22},{"x":1440,"y":-0.08},{"x":1447,"y":-0.12},{"x":1455,"y":-0.35},{"x":1463,"y":-0.47},{"x":1475,"y":-0.49},{"x":1535,"y":-0.49},{"x":1546,"y":-0.44},{"x":1556,"y":-0.36},{"x":1565,"y":-0.42},{"x":1578,"y":-0.48},{"x":1590,"y":-0.35},{"x":1598,"y":0.02},{"x":1604,"y":0.06},{"x":1612,"y":-0.05},{"x":1620,"y":-0.13},{"x":1630,"y":-0.15},{"x":1638,"y":-0.28},{"x":1648,"y":-0.45},{"x":1660,"y":-0.49},{"x":1800,"y":-0.49}
],
"boxes":[
{"x1":231,"x2":308,"y1":3.76,"y2":-0.05},
{"x1":598,"x2":641,"y1":4.33,"y2":-0.08},
{"x1":885,"x2":934,"y1":4.46,"y2":-0.02},
{"x1":1365,"x2":1489,"y1":4.57,"y2":0.01},
{"x1":1653,"x2":1777,"y1":4.04,"y2":-0.14}
],
"blabels":[
{"t":"b","x":212,"y":4.09,"sub":"1,2","sx":285,"sy":3.95},
{"t":"b","x":607,"y":4.37,"sub":"3","sx":669,"sy":4.25},
{"t":"b","x":952,"y":4.41,"sub":"4","sx":1014,"sy":4.28},
{"t":"b","x":1199,"y":4.28,"sub":"5,6","sx":1266,"sy":4.14},
{"t":"b","x":1509,"y":3.98,"sub":"7,8","sx":1571,"sy":3.83}
]
},
"vconcat":[
{
 "width":538,"height":377,
 "layer":[
  {"layer":[
   {"data":{"name":"top"},"mark":{"type":"line","strokeWidth":1,"clip":true},
    "encoding":{
     "x":{"field":"x","type":"quantitative","title":"Raman shift (cm⁻¹)","scale":{"domain":[400,500],"nice":false,"zero":false},
      "axis":{"orient":"top","values":[400,412.5,425,437.5,450,462.5,475,487.5,500],"labelExpr":"datum.value % 25 === 0 ? datum.label : ''","labelOffset":{"condition":{"test":"datum.value === 500","value":-10},"value":0},"tickSize":8,"labelPadding":6,"titlePadding":14}},
     "y":{"field":"y","type":"quantitative","title":null,"scale":{"domain":[0,12.57],"nice":false,"zero":false},
      "axis":{"orient":"left","labels":false,"values":[1,2,3,4,5,6,7,8,9,10,11,12],"tickSize":-4}},
     "color":{"field":"s","type":"nominal","legend":null,"scale":{"domain":["r","o","g","b","k","m"],"range":["#ff0000","#ff8000","#008000","#0000ff","#000000","#ff00ff"]}}
    }},
   {"data":{"name":"leg"},"mark":{"type":"rule","strokeWidth":1},
    "encoding":{
     "x":{"field":"x1","type":"quantitative","title":"Raman shift (cm⁻¹)","scale":{"domain":[400,500],"nice":false,"zero":false}},
     "x2":{"field":"x2"},
     "y":{"field":"y","type":"quantitative","title":null,"scale":{"domain":[0,12.57],"nice":false,"zero":false}},
     "color":{"field":"s","type":"nominal","legend":null}
    }},
   {"data":{"name":"leg"},"mark":{"type":"text","align":"left","baseline":"middle","fontSize":28,"font":"DejaVu Sans"},
    "encoding":{
     "x":{"field":"lx","type":"quantitative","title":"Raman shift (cm⁻¹)","scale":{"domain":[400,500],"nice":false,"zero":false}},
     "y":{"field":"y","type":"quantitative","title":null,"scale":{"domain":[0,12.57],"nice":false,"zero":false}},
     "text":{"field":"t"},
     "color":{"field":"s","type":"nominal","legend":null}
    }},
   {"data":{"name":"toptext"},"mark":{"type":"text","align":"center","baseline":"middle","fontSize":27,"font":"DejaVu Sans","color":"black"},
    "encoding":{
     "x":{"field":"x","type":"quantitative","title":"Raman shift (cm⁻¹)","scale":{"domain":[400,500],"nice":false,"zero":false}},
     "y":{"field":"y","type":"quantitative","title":null,"scale":{"domain":[0,12.57],"nice":false,"zero":false}},
     "text":{"field":"t"}
    }},
   {"data":{"values":[{"t":"(a)","x":492.6,"y":11.3}]},"mark":{"type":"text","align":"center","baseline":"middle","fontSize":31,"font":"Liberation Sans","fontWeight":"bold","color":"black"},
    "encoding":{
     "x":{"field":"x","type":"quantitative","title":"Raman shift (cm⁻¹)","scale":{"domain":[400,500],"nice":false,"zero":false}},
     "y":{"field":"y","type":"quantitative","title":null,"scale":{"domain":[0,12.57],"nice":false,"zero":false}},
     "text":{"field":"t"}
    }}
  ]},
  {"data":{"values":[{"y":1}]},"mark":{"type":"point","opacity":0},
   "encoding":{
    "y":{"field":"y","type":"quantitative","title":null,"scale":{"domain":[0,12.57],"nice":false,"zero":false},
     "axis":{"orient":"right","labels":false,"values":[1,2,3,4,5,6,7,8,9,10,11,12],"tickSize":4}}
   }}
 ],
 "resolve":{"scale":{"y":"independent"},"axis":{"y":"independent"}}
},
{
 "width":538,"height":402,
 "layer":[
  {"layer":[
   {"data":{"name":"boxes"},"mark":{"type":"rect","fillOpacity":0,"stroke":"#808080","strokeDash":[4,3],"strokeWidth":1},
    "encoding":{
     "x":{"field":"x1","type":"quantitative","title":"Raman shift (cm⁻¹)","scale":{"domain":[210,1800],"nice":false,"zero":false},
      "axis":{"orient":"bottom","values":[250,375,500,625,750,875,1000,1125,1250,1375,1500,1625,1750],"labelExpr":"datum.value % 250 === 0 ? datum.label : ''","format":"d","tickSize":8,"labelPadding":4,"titlePadding":13}},
     "x2":{"field":"x2"},
     "y":{"field":"y1","type":"quantitative","title":null,"scale":{"domain":[-0.67,4.89],"nice":false,"zero":false},
      "axis":{"orient":"left","labels":false,"values":[0,1,2,3,4],"tickSize":-4}},
     "y2":{"field":"y2"}
    }},
   {"data":{"name":"calc"},"mark":{"type":"line","strokeWidth":6,"color":"#ff00ff","clip":true,"strokeJoin":"round","strokeCap":"round"},
    "encoding":{
     "x":{"field":"x","type":"quantitative","title":"Raman shift (cm⁻¹)","scale":{"domain":[210,1800],"nice":false,"zero":false}},
     "y":{"field":"y","type":"quantitative","title":null,"scale":{"domain":[-0.67,4.89],"nice":false,"zero":false}}
    }},
   {"data":{"name":"bot"},"mark":{"type":"line","strokeWidth":1,"clip":true},
    "encoding":{
     "x":{"field":"x","type":"quantitative","title":"Raman shift (cm⁻¹)","scale":{"domain":[210,1800],"nice":false,"zero":false}},
     "y":{"field":"y","type":"quantitative","title":null,"scale":{"domain":[-0.67,4.89],"nice":false,"zero":false}},
     "color":{"field":"s","type":"nominal","legend":null,"scale":{"domain":["r","o","g","b","k","m"],"range":["#ff0000","#ff8000","#008000","#0000ff","#000000","#ff00ff"]}}
    }},
   {"data":{"name":"blabels"},"mark":{"type":"text","align":"left","baseline":"alphabetic","fontSize":30,"font":"DejaVu Sans","color":"black"},
    "encoding":{
     "x":{"field":"x","type":"quantitative","title":"Raman shift (cm⁻¹)","scale":{"domain":[210,1800],"nice":false,"zero":false}},
     "y":{"field":"y","type":"quantitative","title":null,"scale":{"domain":[-0.67,4.89],"nice":false,"zero":false}},
     "text":{"field":"t"}
    }},
   {"data":{"name":"blabels"},"mark":{"type":"text","align":"left","baseline":"alphabetic","fontSize":17,"font":"DejaVu Sans","color":"black"},
    "encoding":{
     "x":{"field":"sx","type":"quantitative","title":"Raman shift (cm⁻¹)","scale":{"domain":[210,1800],"nice":false,"zero":false}},
     "y":{"field":"sy","type":"quantitative","title":null,"scale":{"domain":[-0.67,4.89],"nice":false,"zero":false}},
     "text":{"field":"sub"}
    }},
   {"data":{"values":[{"t":"(b)","x":1696,"y":4.42}]},"mark":{"type":"text","align":"center","baseline":"middle","fontSize":31,"font":"Liberation Sans","fontWeight":"bold","color":"black"},
    "encoding":{
     "x":{"field":"x","type":"quantitative","title":"Raman shift (cm⁻¹)","scale":{"domain":[210,1800],"nice":false,"zero":false}},
     "y":{"field":"y","type":"quantitative","title":null,"scale":{"domain":[-0.67,4.89],"nice":false,"zero":false}},
     "text":{"field":"t"}
    }}
  ]},
  {"data":{"values":[{"x":1000,"y":1}]},"mark":{"type":"point","opacity":0},
   "encoding":{
    "x":{"field":"x","type":"quantitative","title":null,"scale":{"domain":[210,1800],"nice":false,"zero":false},
     "axis":{"orient":"top","labels":false,"values":[250,375,500,625,750,875,1000,1125,1250,1375,1500,1625,1750],"tickSize":-4}},
    "y":{"field":"y","type":"quantitative","title":null,"scale":{"domain":[-0.67,4.89],"nice":false,"zero":false},
     "axis":{"orient":"right","labels":false,"values":[0,1,2,3,4],"tickSize":4}}
   }}
 ],
 "resolve":{"scale":{"x":"independent","y":"independent"},"axis":{"x":"independent","y":"independent"}}
}
]
}
